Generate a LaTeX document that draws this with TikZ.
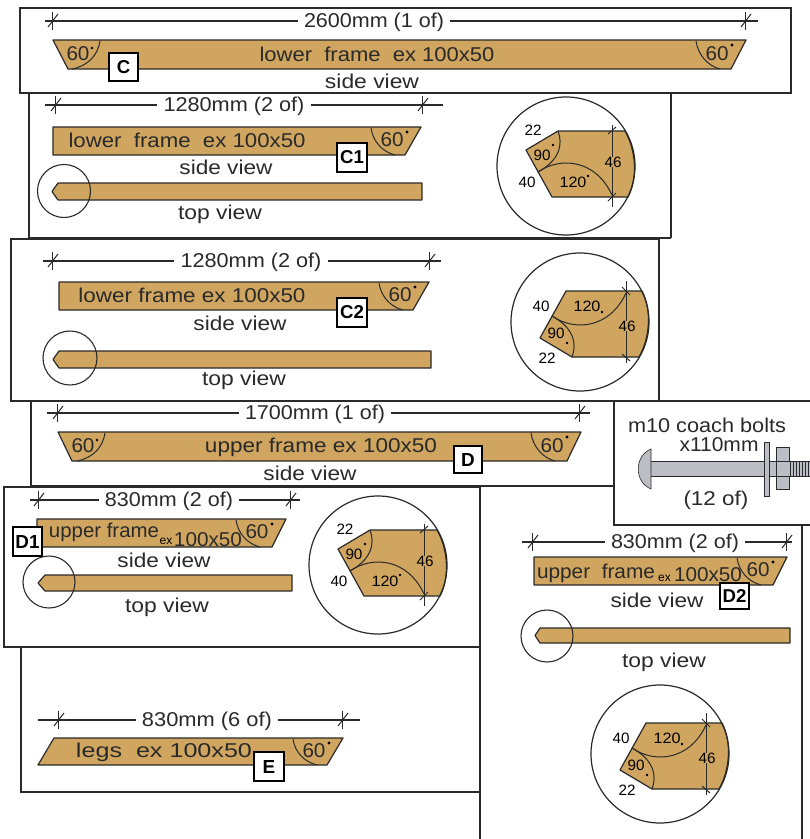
\documentclass[tikz,border=0pt]{standalone}
\usepackage{graphicx}
\usepackage{fontspec}
\setmainfont{Liberation Sans}
\definecolor{woodc}{HTML}{CFA560}
\definecolor{inkc}{HTML}{2A2A2A}
\definecolor{steelc}{HTML}{BDBDC6}
\tikzset{
  frameline/.style={draw=inkc,line width=1.3pt},
  woodshape/.style={fill=woodc,draw=inkc,line width=1.2pt,line join=round},
  thinline/.style={draw=inkc,line width=1pt},
  dimstroke/.style={draw=inkc,line width=1.1pt},
  steel/.style={fill=steelc,draw=inkc,line width=0.6pt},
  txt/.style={inner sep=0pt,text=inkc,font=\fontsize{20}{20}\selectfont},
  smalltxt/.style={inner sep=0pt,text=black,font=\fontsize{15}{15}\selectfont},
  tinytxt/.style={inner sep=0pt,text=black,font=\fontsize{12}{12}\selectfont},
  tagbox/.style={draw=black,fill=white,line width=1.2pt,inner sep=0pt,text=black,font=\fontsize{17}{17}\selectfont\bfseries}
}
% name, x, y, width, text
\newcommand\lab[5]{\node[txt] (#1) at (#2,#3) {\resizebox{#4pt}{\height}{#5}};}
% name, x0, y0, x1, y1, text
\newcommand\tagb[6]{\node[tagbox,minimum width=#4pt-#2pt,minimum height=#5pt-#3pt] (#1) at ({(#2+#4)/2},{(#3+#5)/2}) {\resizebox{!}{13pt}{#6}};}
\newcommand\tickm[2]{\draw[thinline] (#1,#2-9) -- (#1,#2+9); \draw[thinline] (#1-4,#2+6) -- (#1+6,#2-7);}
% name, endL, tickL, tickR, endR, y, textcenter, textwidth, text
\newcommand\dimline[9]{
  \node[txt,inner xsep=6pt] (#1) at (#7,#6+1) {\resizebox{#8pt}{\height}{#9}};
  \coordinate (#1l) at (#2,#6); \coordinate (#1r) at (#5,#6);
  \draw[dimstroke] (#1l) -- (#1l-|#1.west);
  \draw[dimstroke] (#1r-|#1.east) -- (#1r);
  \tickm{#3}{#6}\tickm{#4}{#6}}
% xtl, xbl, xtr, xbr, yt, yb
\newcommand\beam[6]{\draw[woodshape] (#1,#5) -- (#3,#5) -- (#4,#6) -- (#2,#6) -- cycle;}
% name, xtr, yt, yb : right mitre arc and 60 label
\newcommand\rcut[4]{
  \draw[thinline] (#2-50,#3+1) .. controls (#2-48,#3+15) and (#2-38,#4-3) .. (#2-26,#4);
  \node[txt] (#1) at (#2-29,{(#3+#4)/2-1}) {\resizebox{23pt}{\height}{60}};
  \fill[black] (#2-14,#3+5) circle (1.6);}
% name, xtl, yt, yb : left mitre arc and 60 label
\newcommand\lcut[4]{
  \draw[thinline] (#2+47,#3+1) .. controls (#2+45,#3+15) and (#2+35,#4-3) .. (#2+19,#4);
  \node[txt] (#1) at (#2+25,{(#3+#4)/2-1}) {\resizebox{23pt}{\height}{60}};
  \fill[black] (#2+39,#3+8) circle (1.4);}
% xtip, x0, x1, y0, y1
\newcommand\topbar[5]{\draw[woodshape] (#1,{(#4+#5)/2}) -- (#2,#4) -- (#3,#4) -- (#3,#5) -- (#2,#5) -- cycle;}
% name, cx, cy, sign
\newcommand\detail[4]{
  \begin{scope}[shift={(#2,#3)},yscale=#4]
    \draw[woodshape] (-8,-35) -- (-40,-16) -- (-14,31) -- (62,31)
       .. controls (72,12) and (70,-16) .. (59,-35) -- cycle;
    \draw[thinline] (-8,-35) .. controls (-3,-22) and (-6,-6) .. (-28,6);
    \draw[thinline] (-28,6) .. controls (-5,-10) and (30,-6) .. (46,29);
    \coordinate (#1a) at (46,-41); \coordinate (#1b) at (46,41);
    \draw[thinline] (#1a) -- (#1b);
    \draw[thinline] (42,-32) -- (50,-39); \draw[thinline] (42,35) -- (50,27);
    \node[smalltxt,fill=woodc,inner xsep=0.5pt] (#1s) at (47,-4) {\resizebox{17pt}{\height}{\phantom{46}}};
    \fill[black] (-13,-21) circle (1.3);
    \fill[black] (22,10) circle (1.3);
  \end{scope}
  \draw[line width=1.2pt,draw=inkc] (#2,#3) circle (69);
  \node[smalltxt] (#1n) at (#2+47,#3+#4*-4) {\resizebox{17pt}{\height}{46}};
  \node[smalltxt] (#1p) at (#2-33,#3+#4*-36) {\resizebox{17pt}{\height}{22}};
  \node[smalltxt] (#1q) at (#2-39,#3+#4*16) {\resizebox{17pt}{\height}{40}};
  \node[smalltxt] (#1r) at (#2-24,#3+#4*-11) {\resizebox{17pt}{\height}{90}};
  \node[smalltxt] (#1t) at (#2+7,#3+#4*16) {\resizebox{27pt}{\height}{120}};}
\newcommand\looped[3]{\draw[line width=1.1pt,draw=inkc] (#1,#2) circle (#3);}
\begin{document}
\begin{tikzpicture}[x=1pt,y=-1pt]
\useasboundingbox (0,0) rectangle (810,839);
\fill[white] (0,0) rectangle (810,839);
% frames
\draw[frameline] (29,93) -- (29,238);
\draw[frameline] (671,93) -- (671,238);
\draw[frameline] (29,238) -- (671,238);
\draw[frameline] (20,8) rectangle (791,93);
\draw[frameline] (11,239) rectangle (659,401);
\draw[frameline] (31,401) -- (31,487);
\draw[frameline] (659,401) -- (810,401);
\draw[frameline] (614,401) -- (614,525) -- (810,525);
\draw[frameline] (31,486) -- (614,486);
\draw[frameline] (4,487) rectangle (480,647);
\draw[frameline] (21,647) -- (21,792) -- (480,792);
\draw[frameline] (480,647) -- (480,839);
\draw[frameline] (802,525) -- (802,839);
% C
\dimline{dc}{45}{52}{745}{758}{21}{374}{140}{2600mm (1 of)}
\beam{53}{68}{746}{731}{40}{69}
\lcut{cl}{53}{40}{69}
\rcut{cr}{746}{40}{69}
\lab{ct}{377}{54}{235}{lower\ \ frame\ \ ex 100x50}
\lab{cs}{372}{81}{94}{side view}
\tagb{tc}{109}{53}{138}{81}{C}
% C1
\dimline{dca}{45}{55}{422}{443}{105}{234}{141}{1280mm (2 of)}
\beam{53}{53}{421}{405}{127}{155}
\rcut{car}{421}{127}{155}
\lab{cat}{187}{140}{237}{lower\ \ frame\ \ ex 100x50}
\lab{cas}{226}{167}{93}{side view}
\tagb{tca}{337}{143}{367}{172}{C1}
\topbar{52}{58}{422}{183}{200}
\looped{64}{191}{26.5}
\lab{cav}{220}{214}{84}{top view}
\detail{da}{566}{166}{1}
% C2
\dimline{dcb}{43}{52}{429}{441}{261}{251}{141}{1280mm (2 of)}
\beam{59}{59}{429}{413}{282}{310}
\rcut{cbr}{429}{282}{310}
\lab{cbt}{192}{295}{227}{lower frame ex 100x50}
\lab{cbs}{240}{323}{93}{side view}
\tagb{tcb}{337}{298}{367}{327}{C2}
\topbar{53}{59}{431}{351}{368}
\looped{70}{358}{27}
\lab{cbv}{244}{380}{84}{top view}
\detail{db}{580}{322}{-1}
% D
\dimline{dd}{47}{57}{579}{590}{413}{315}{140}{1700mm (1 of)}
\beam{58}{72}{581}{567}{432}{461}
\lcut{dl}{58}{432}{461}
\rcut{dr}{581}{432}{461}
\lab{dt}{321}{447}{232}{upper frame ex 100x50}
\lab{ds}{310}{473}{93}{side view}
\tagb{td}{454}{446}{482}{473}{D}
% D1
\dimline{dda}{30}{38}{290}{300}{500}{169}{128}{830mm (2 of)}
\beam{37}{37}{286}{272}{519}{547}
\rcut{dar}{286}{519}{547}
\lab{dat}{104}{532}{110}{upper frame}
\node[tinytxt] (dae) at (166,541) {ex};
\lab{datb}{208}{540}{68}{100x50}
\lab{das}{164}{560}{93}{side view}
\tagb{tda}{13}{527}{42}{556}{D1}
\topbar{38}{45}{292}{575}{591}
\looped{49}{582}{26}
\lab{dav}{167}{607}{84}{top view}
\detail{ddb}{378}{565}{1}
% E
\dimline{de}{38}{58}{342}{360}{720}{207}{130}{830mm (6 of)}
\beam{54}{38}{343}{327}{738}{765}
\rcut{er}{343}{738}{765}
\lab{et}{164}{752}{176}{legs\ \ ex 100x50}
\tagb{te}{254}{752}{284}{781}{E}
% D2
\dimline{dcc}{522}{532}{786}{792}{542}{675}{128}{830mm (2 of)}
\beam{534}{534}{787}{773}{557}{585}
\rcut{dcr}{787}{557}{585}
\lab{dct}{596}{573}{118}{upper\ \ frame}
\node[tinytxt] (dce) at (664.5,578) {ex};
\lab{dctb}{708}{575}{68}{100x50}
\lab{dcs}{657}{600}{93}{side view}
\tagb{tdc}{720}{583}{749}{609}{D2}
\topbar{535}{540}{790}{628}{643}
\looped{547}{636}{26}
\lab{dcv}{664}{662}{84}{top view}
\detail{dcd}{660}{754}{-1}
% bolt
\lab{ba}{707}{425}{158}{m10 coach bolts}
\lab{bb}{719}{445}{79}{x110mm}
\lab{bc}{716}{500}{65}{(12 of)}
\draw[steel] (650,461.5) rectangle (776,476);
\draw[steel] (651,449) .. controls (634,456) and (634,482) .. (651,489) -- cycle;
\draw[steel] (764,442) rectangle (769,496);
\fill[steelc] (776,447) rectangle (789,489);
\draw[inkc,line width=0.6pt] (776,447) rectangle (789,489);
\draw[inkc,line width=0.6pt] (776,461.5) -- (789,461.5) (776,476) -- (789,476);
\fill[steelc] (789,461.5) rectangle (810,476);
\foreach \tx in {790,793,...,808} {\draw[inkc,line width=0.7pt] (\tx,461.5) -- (\tx,476);}
\draw[inkc,line width=0.7pt] (789,461.5) -- (810,461.5) (789,476) -- (810,476);
\end{tikzpicture}
\end{document}
